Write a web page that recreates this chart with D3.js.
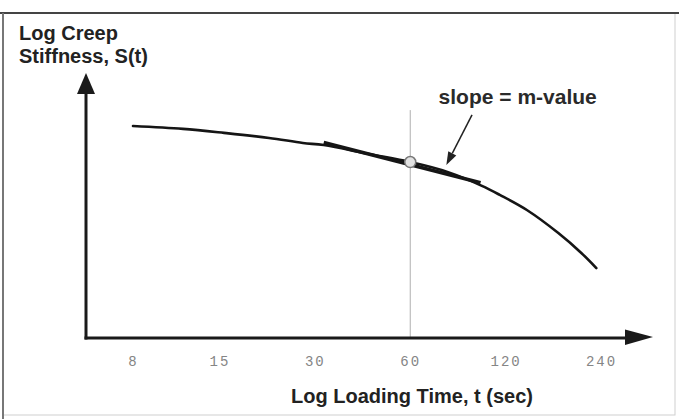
<!DOCTYPE html>
<html>
<head>
<meta charset="utf-8">
<script src="https://cdn.jsdelivr.net/npm/d3@7"></script>
<style>
  body { margin: 0; background: #fff; }
  svg { display: block; }
</style>
</head>
<body>
<div id="container"></div>
<script>
// tick labels on the time axis (sec)
const tickLabels = [8, 15, 30, 60, 120, 240];

// creep stiffness curve (log S in arbitrary units)
const curveTime = [8, 11.5, 15.5, 21.5, 27.5, 32, 44.5, 60, 79, 101, 115, 140, 176, 208, 232];
const curveLogS = [80, 78.9, 77.4, 75.5, 73.6, 72.8, 69.4, 66.4, 62.6, 57.4, 54, 48.3, 39.6, 32.1, 26.4];

// thick tangent segment around t = 60
const tangentTime = [32, 100];
const tangentLogS = [73.8, 58.6];

// the marked point
const markTime = 60;
const markLogS = 66.4;

// annotation arrow (from label down to the tangent)
const noteTime = [94, 78];
const noteLogS = [84.2, 65.3];
const noteText = 'slope = m-value';

const w = 679, h = 419;
const originX = 86, originY = 338;

const xScale = d3.scaleLog()
  .domain([8, 240])
  .range([133, 601]);

const yScale = d3.scaleLinear()
  .domain([0, 100])
  .range([originY, 73]);

const svg = d3.select('#container')
  .append('svg')
  .attr('width', w)
  .attr('height', h)
  .style('font-family', '"Liberation Sans", Arial, sans-serif');

// frame
svg.append('rect')
  .attr('x', 3).attr('y', 13)
  .attr('width', 672).attr('height', 402)
  .attr('fill', 'none')
  .attr('stroke', '#cfcfcf')
  .attr('stroke-width', 1);
svg.append('line')
  .attr('x1', 0).attr('x2', w).attr('y1', 13).attr('y2', 13)
  .attr('stroke', '#444').attr('stroke-width', 2);
svg.append('line')
  .attr('x1', 3).attr('x2', 3).attr('y1', 13).attr('y2', h)
  .attr('stroke', '#777').attr('stroke-width', 2);

// vertical guide at t = 60
svg.append('line')
  .attr('x1', xScale(markTime)).attr('x2', xScale(markTime))
  .attr('y1', yScale(86)).attr('y2', originY)
  .attr('stroke', '#b0b0b0')
  .attr('stroke-width', 1);

// tick labels through an axis
const xAxis = d3.axisBottom(xScale)
  .tickValues(tickLabels)
  .tickFormat(d => d)
  .tickSize(0)
  .tickPadding(18);

const gx = svg.append('g')
  .attr('id', 'x-axis')
  .attr('transform', 'translate(0,' + originY + ')')
  .call(xAxis);
gx.select('.domain').remove();
gx.selectAll('text')
  .attr('font-family', '"Liberation Mono", "Courier New", monospace')
  .attr('font-size', 14)
  .attr('letter-spacing', '2px')
  .attr('fill', '#858585');

// axes with arrow heads
const yTop = yScale.range()[1];
svg.append('line')
  .attr('x1', originX).attr('x2', originX)
  .attr('y1', originY + 1.5).attr('y2', yTop + 16)
  .attr('stroke', '#1a1a1a').attr('stroke-width', 3);
svg.append('path')
  .attr('d', d3.line()([[originX, yTop], [originX - 9, yTop + 21], [originX + 9, yTop + 21]]) + 'Z')
  .attr('fill', '#1a1a1a');

const xEnd = 653;
svg.append('line')
  .attr('x1', originX - 1.5).attr('x2', xEnd - 20)
  .attr('y1', originY).attr('y2', originY)
  .attr('stroke', '#1a1a1a').attr('stroke-width', 3);
svg.append('path')
  .attr('d', d3.line()([[xEnd, originY - 1], [xEnd - 28, originY - 8.5], [xEnd - 28, originY + 7]]) + 'Z')
  .attr('fill', '#1a1a1a');

// curve
const curvePts = curveTime.map((t, i) => [t, curveLogS[i]]);
const line = d3.line()
  .x(d => xScale(d[0]))
  .y(d => yScale(d[1]))
  .curve(d3.curveCatmullRom);

svg.append('path')
  .datum(curvePts)
  .attr('d', line)
  .attr('fill', 'none')
  .attr('stroke', '#151515')
  .attr('stroke-width', 2.6)
  .attr('stroke-linecap', 'round');

// tangent
svg.append('path')
  .datum(tangentTime.map((t, i) => [t, tangentLogS[i]]))
  .attr('d', d3.line().x(d => xScale(d[0])).y(d => yScale(d[1])))
  .attr('fill', 'none')
  .attr('stroke', '#151515')
  .attr('stroke-width', 3.6);

// marked point
svg.append('circle')
  .attr('cx', xScale(markTime))
  .attr('cy', yScale(markLogS))
  .attr('r', 5.5)
  .attr('fill', '#e2e2e2')
  .attr('stroke', '#777')
  .attr('stroke-width', 1.5);

// annotation arrow
const ax1 = xScale(noteTime[0]), ay1 = yScale(noteLogS[0]);
const ax2 = xScale(noteTime[1]), ay2 = yScale(noteLogS[1]);
const ang = Math.atan2(ay2 - ay1, ax2 - ax1);
const headLen = 13, headW = 4.5;
const bx = ax2 - headLen * Math.cos(ang), by = ay2 - headLen * Math.sin(ang);
svg.append('line')
  .attr('x1', ax1).attr('y1', ay1).attr('x2', bx).attr('y2', by)
  .attr('stroke', '#222').attr('stroke-width', 1.5);
svg.append('path')
  .attr('d', d3.line()([
    [ax2, ay2],
    [bx + headW * Math.sin(ang), by - headW * Math.cos(ang)],
    [bx - headW * Math.sin(ang), by + headW * Math.cos(ang)]
  ]) + 'Z')
  .attr('fill', '#222');

svg.append('text')
  .attr('x', xScale(131))
  .attr('y', 104)
  .attr('text-anchor', 'middle')
  .attr('font-size', 21)
  .attr('font-weight', 'bold')
  .attr('fill', '#2a2a2a')
  .text(noteText);

// titles
svg.append('text')
  .attr('x', 19).attr('y', 40)
  .attr('font-size', 20).attr('font-weight', 'bold').attr('fill', '#222')
  .text('Log Creep');
svg.append('text')
  .attr('x', 19).attr('y', 63)
  .attr('font-size', 20).attr('font-weight', 'bold').attr('fill', '#222')
  .text('Stiffness, S(t)');

svg.append('text')
  .attr('x', 412).attr('y', 403)
  .attr('text-anchor', 'middle')
  .attr('font-size', 20).attr('font-weight', 'bold').attr('fill', '#222')
  .text('Log Loading Time, t (sec)');
</script>
</body>
</html>
